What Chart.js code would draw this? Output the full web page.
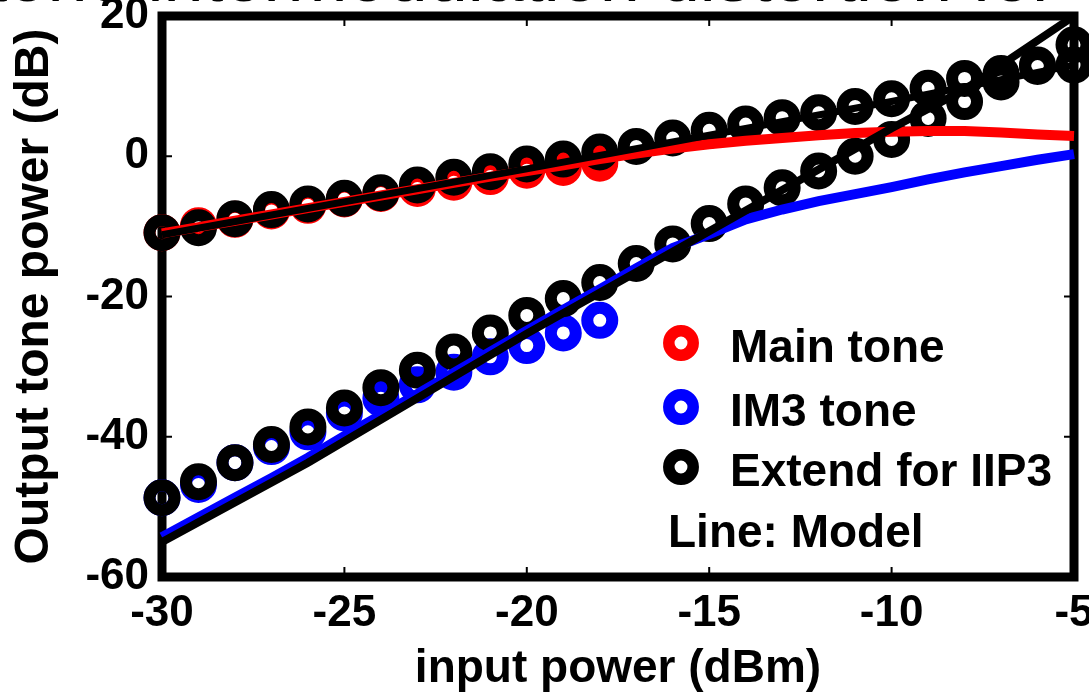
<!DOCTYPE html>
<html>
<head>
<meta charset="utf-8">
<title>Two-tone intermodulation distortion</title>
<script src="https://cdn.jsdelivr.net/npm/chart.js@4.4.1/dist/chart.umd.min.js"></script>
<style>
  html, body { margin: 0; padding: 0; background: #fff; overflow: hidden; }
  #wrap { position: relative; width: 1089px; height: 692px; overflow: hidden; }
  #title {
    position: absolute; right: 33px; top: -60px;
    font: 72px/72px "Liberation Sans", Arial, sans-serif;
    white-space: nowrap; color: #000;
  }
  #chart { position: absolute; left: 0; top: 0; }
</style>
</head>
<body>
<div id="wrap">
  <div id="title">Two-tone intermodulation distortion for</div>
  <canvas id="chart" width="1089" height="692"></canvas>
</div>
<script>
/* ---- data ---- */
const inputPower    = [-30,-29,-28,-27,-26,-25,-24,-23,-22,-21,-20,-19,-18,-17,-16,-15,-14,-13,-12,-11,-10,-9,-8,-7,-6,-5];
const measuredInput = [-30,-29,-28,-27,-26,-25,-24,-23,-22,-21,-20,-19,-18];

// measured tones (circles)
const mainTone = [-10.9,-9.9,-9.0,-7.8,-7.0,-6.1,-5.3,-4.6,-3.7,-2.9,-2.0,-1.6,-1.0];
const im3Tone  = [-48.7,-46.8,-43.7,-41.4,-39.3,-36.6,-34.5,-32.6,-30.8,-28.6,-27.0,-25.2,-23.4];

// extended points for IIP3 (black circles)
const mainExtend = [-10.9,-10.2,-8.9,-7.6,-6.8,-6.0,-5.2,-4.1,-3.0,-2.2,-1.1,-0.4,0.6,1.4,2.6,3.7,4.6,5.5,6.2,7.1,8.2,9.7,11.1,11.8,12.8,13.0];
const im3Extend  = [-48.7,-46.4,-43.7,-41.1,-38.6,-35.9,-33.0,-30.5,-27.9,-25.2,-22.7,-20.3,-18.0,-15.3,-12.5,-9.6,-6.8,-4.5,-2.1,0.0,2.4,5.4,7.8,10.6,13.0,15.9];

// model curves (lines)
const mainModel = [-11.0,-10.1,-9.2,-8.3,-7.4,-6.5,-5.6,-4.7,-3.8,-2.9,-2.1,-1.3,-0.4,0.4,1.1,1.7,2.2,2.6,3.0,3.3,3.5,3.6,3.6,3.4,3.1,2.9];
const im3Model  = [-54.3,-51.5,-48.7,-45.9,-43.0,-39.9,-36.9,-33.9,-30.9,-27.9,-24.9,-21.9,-19.0,-16.0,-13.1,-11.1,-9.0,-7.6,-6.4,-5.4,-4.4,-3.3,-2.3,-1.4,-0.5,0.3];

// extension lines of the model
const mainExtLineX = [-30, -20, -10, -5];
const mainExtLineY = [-11.2, -1.8, 7.8, 13.0];
const im3ExtLineX  = [-30, -26, -20, -15, -10, -8, -5];
const im3ExtLineY  = [-55.0, -43.7, -25.3, -10.7, 4.0, 9.5, 20.0];

const xTicks = [-30, -25, -20, -15, -10, -5];
const yTicks = [-60, -40, -20, 0, 20];

const legendItems = [
    { label: 'Main tone',       color: '#ff0000' },
    { label: 'IM3 tone',        color: '#0000ff' },
    { label: 'Extend for IIP3', color: '#000000' }
];
const legendNote = 'Line: Model';

/* ---- helpers ---- */
const FONT = '"Liberation Sans", Arial, sans-serif';
const pts = (xs, ys) => xs.map((x, i) => ({ x, y: ys[i] }));

const circles = (label, xs, ys, color) => ({
    label, data: pts(xs, ys), showLine: false, clip: false,
    pointStyle: 'circle', pointRadius: 12.5, pointHoverRadius: 12.5,
    pointBorderWidth: 12, pointBorderColor: color, pointBackgroundColor: 'rgba(0,0,0,0)'
});
const line = (label, xs, ys, color, width) => ({
    label, data: pts(xs, ys), showLine: true, clip: false,
    borderColor: color, borderWidth: width, pointRadius: 0, tension: 0, fill: false
});

/* box around the plot, ticks pointing inward */
const framePlugin = {
    id: 'frame',
    beforeDatasetsDraw(chart) {
        const { ctx, chartArea: a, scales } = chart;
        ctx.save();
        ctx.strokeStyle = '#000';
        ctx.lineWidth = 2;
        xTicks.forEach(v => {
            const px = scales.x.getPixelForValue(v);
            ctx.beginPath();
            ctx.moveTo(px, a.top); ctx.lineTo(px, a.top + 10);
            ctx.moveTo(px, a.bottom); ctx.lineTo(px, a.bottom - 10);
            ctx.stroke();
        });
        yTicks.forEach(v => {
            const py = scales.y.getPixelForValue(v);
            ctx.beginPath();
            ctx.moveTo(a.left, py); ctx.lineTo(a.left + 10, py);
            ctx.moveTo(a.right, py); ctx.lineTo(a.right - 10, py);
            ctx.stroke();
        });
        ctx.lineWidth = 9;
        ctx.strokeRect(a.left, a.top, a.right - a.left, a.bottom - a.top);
        ctx.restore();
    }
};

/* legend drawn inside the plot */
const legendPlugin = {
    id: 'insideLegend',
    afterDraw(chart) {
        const ctx = chart.ctx;
        const rows = [343, 407, 467];
        ctx.save();
        ctx.font = 'bold 46px ' + FONT;
        ctx.textAlign = 'left';
        ctx.textBaseline = 'alphabetic';
        legendItems.forEach((it, i) => {
            ctx.beginPath();
            ctx.lineWidth = 11.5;
            ctx.strokeStyle = it.color;
            ctx.arc(681, rows[i], 12.2, 0, Math.PI * 2);
            ctx.stroke();
            ctx.fillStyle = '#000';
            ctx.fillText(it.label, 730, rows[i] + 19);
        });
        ctx.fillText(legendNote, 668, 547);
        ctx.restore();
    }
};

new Chart(document.getElementById('chart'), {
    type: 'scatter',
    data: {
        datasets: [
            line('IM3 extension', im3ExtLineX, im3ExtLineY, '#000000', 8),
            line('Main extension', mainExtLineX, mainExtLineY, '#000000', 7),
            line('Main model', inputPower, mainModel, '#ff0000', 10),
            line('IM3 model', inputPower, im3Model, '#0000ff', 10),
            circles('Extend (main)', inputPower, mainExtend, '#000000'),
            circles('Extend (IM3)', inputPower, im3Extend, '#000000'),
            circles('Main tone', measuredInput, mainTone, '#ff0000'),
            circles('IM3 tone', measuredInput, im3Tone, '#0000ff')
        ]
    },
    options: {
        responsive: false,
        animation: false,
        layout: { autoPadding: false, padding: { top: 16, right: 15, left: 0, bottom: 0 } },
        plugins: { legend: { display: false }, tooltip: { enabled: false } },
        scales: {
            x: {
                type: 'linear', min: -30, max: -5,
                grid: { display: false, drawTicks: false },
                border: { display: false },
                afterBuildTicks: s => { s.ticks = xTicks.map(v => ({ value: v })); },
                afterFit: s => { s.height = 115; s.paddingLeft = 0; s.paddingRight = 0; },
                ticks: { color: '#000', padding: 10, maxRotation: 0, font: { family: FONT, size: 44, weight: 'bold' } },
                title: {
                    display: true, text: 'input power (dBm)', color: '#000',
                    padding: { top: 0, bottom: 0 },
                    font: { family: FONT, size: 46, weight: 'bold', lineHeight: 1 }
                }
            },
            y: {
                type: 'linear', min: -60, max: 20,
                grid: { display: false, drawTicks: false },
                border: { display: false },
                afterBuildTicks: s => { s.ticks = yTicks.map(v => ({ value: v })); },
                afterFit: s => { s.width = 162; s.paddingTop = 0; s.paddingBottom = 0; },
                ticks: { color: '#000', padding: 13, font: { family: FONT, size: 44, weight: 'bold' } },
                title: {
                    display: true, text: 'Output tone power (dB)', color: '#000',
                    padding: { top: 11, bottom: 0 },
                    font: { family: FONT, size: 48, weight: 'bold', lineHeight: 1 }
                }
            }
        }
    },
    plugins: [framePlugin, legendPlugin]
});
</script>
</body>
</html>
